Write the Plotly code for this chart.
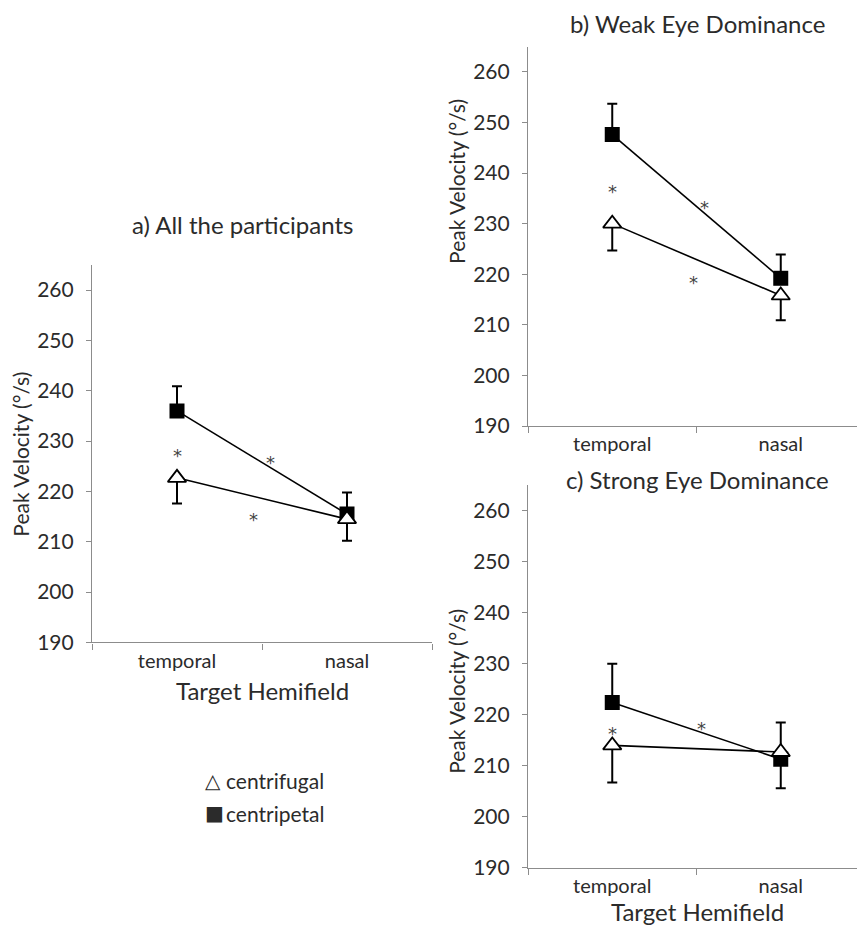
import plotly.graph_objects as go

# ── Data ─────────────────────────────────────────────────────────────────────
HEMIFIELDS = ["temporal", "nasal"]

# a) All the participants
A_CENTRIFUGAL     = [222.7, 214.5]
A_CENTRIFUGAL_ERR = [5.1, 4.3]
A_CENTRIPETAL     = [236.0, 215.5]
A_CENTRIPETAL_ERR = [4.9, 4.3]
A_STARS_X = ["temporal", 0.55, 0.45]
A_STARS_Y = [228.0, 226.5, 215.3]

# b) Weak Eye Dominance
B_CENTRIFUGAL     = [230.0, 215.8]
B_CENTRIFUGAL_ERR = [5.3, 4.9]
B_CENTRIPETAL     = [247.6, 219.2]
B_CENTRIPETAL_ERR = [6.1, 4.7]
B_STARS_X = ["temporal", 0.55, 0.48]
B_STARS_Y = [237.2, 233.9, 219.1]

# c) Strong Eye Dominance
C_CENTRIFUGAL     = [214.0, 212.7]
C_CENTRIFUGAL_ERR = [7.3, 7.1]
C_CENTRIPETAL     = [222.4, 211.3]
C_CENTRIPETAL_ERR = [7.6, 7.2]
C_STARS_X = ["temporal", 0.53]
C_STARS_Y = [217.2, 218.0]

Y_TICKS = [190, 200, 210, 220, 230, 240, 250, 260]

# ── Style ────────────────────────────────────────────────────────────────────
FONT = "Lato, 'Open Sans', sans-serif"
TEXT = "#2b2b2b"
AXIS = "#8c8c8c"
OFF_X = 8                    # page shows the figure shifted right by the body margin
W, H = 865 - OFF_X, 933


def px_x(p):
    return (p - OFF_X) / W


def px_y(p):
    return 1 - p / H


fig = go.Figure()


def add_panel(n, centrifugal, cf_err, centripetal, cp_err, stars_x, stars_y):
    xa = "x" if n == 1 else f"x{n}"
    ya = "y" if n == 1 else f"y{n}"
    fig.add_trace(go.Scatter(
        x=HEMIFIELDS, y=centripetal, xaxis=xa, yaxis=ya,
        mode="lines+markers", showlegend=False,
        line=dict(color="black", width=1.6),
        marker=dict(symbol="square", size=15, color="black"),
        error_y=dict(type="data", symmetric=False, array=cp_err,
                     arrayminus=[0] * len(cp_err),
                     color="black", thickness=2, width=5),
    ))
    fig.add_trace(go.Scatter(
        x=HEMIFIELDS, y=centrifugal, xaxis=xa, yaxis=ya,
        mode="lines+markers", showlegend=False,
        line=dict(color="black", width=1.6),
        marker=dict(symbol="triangle-up", size=16, color="white",
                    line=dict(color="black", width=1.8)),
        error_y=dict(type="data", symmetric=False, array=[0] * len(cf_err),
                     arrayminus=cf_err,
                     color="black", thickness=2, width=5),
    ))
    # significance stars: first sits on the category, others between categories
    for sx, sy in zip(stars_x, stars_y):
        fig.add_annotation(
            x=0 if sx == "temporal" else sx, y=sy, xref=xa, yref=ya,
            text="*", showarrow=False, yshift=-4,
            font=dict(family="DejaVu Sans", size=18, color="#444"),
        )


add_panel(1, A_CENTRIFUGAL, A_CENTRIFUGAL_ERR, A_CENTRIPETAL, A_CENTRIPETAL_ERR,
          A_STARS_X, A_STARS_Y)
add_panel(2, B_CENTRIFUGAL, B_CENTRIFUGAL_ERR, B_CENTRIPETAL, B_CENTRIPETAL_ERR,
          B_STARS_X, B_STARS_Y)
add_panel(3, C_CENTRIFUGAL, C_CENTRIFUGAL_ERR, C_CENTRIPETAL, C_CENTRIPETAL_ERR,
          C_STARS_X, C_STARS_Y)

xaxis_style = dict(
    type="category", range=[-0.5, 1.5], showline=True, linecolor=AXIS,
    linewidth=1.2, ticks="outside", tickson="boundaries", ticklen=6,
    tickcolor=AXIS, showgrid=False, zeroline=False,
    tickfont=dict(family=FONT, size=20, color=TEXT),
)
yaxis_style = dict(
    range=[190, 265], tickvals=Y_TICKS, showline=True, linecolor=AXIS,
    linewidth=1.2, ticks="outside", ticklen=5, tickcolor=AXIS,
    showgrid=False, zeroline=False, ticklabelstandoff=8,
    tickfont=dict(family=FONT, size=21, color=TEXT),
)

fig.update_layout(
    width=W, height=H,
    margin=dict(l=0, r=0, t=0, b=0),
    paper_bgcolor="white", plot_bgcolor="white",
    font=dict(family=FONT, color=TEXT),
    xaxis=dict(domain=[px_x(92), px_x(432)], anchor="y", **xaxis_style),
    yaxis=dict(domain=[px_y(642), px_y(260)], anchor="x", **yaxis_style),
    xaxis2=dict(domain=[px_x(528), 1.0], anchor="y2", **xaxis_style),
    yaxis2=dict(domain=[px_y(423), px_y(39)], anchor="x2", **yaxis_style),
    xaxis3=dict(domain=[px_x(528), 1.0], anchor="y3", **xaxis_style),
    yaxis3=dict(domain=[px_y(870), px_y(483)], anchor="x3", **yaxis_style),
)

# ── Titles, axis labels, legend ──────────────────────────────────────────────
def paper_text(text, x, y, size, angle=0, xanchor="center", family=FONT):
    fig.add_annotation(
        x=px_x(x), y=px_y(y), xref="paper", yref="paper", text=text,
        showarrow=False, textangle=angle, xanchor=xanchor, yanchor="middle",
        font=dict(family=family, size=size, color=TEXT),
    )


paper_text("a) All the participants", 242, 219, 24)
paper_text("b) Weak Eye Dominance", 697, 16, 24)
paper_text("c) Strong Eye Dominance", 697, 477, 24)

paper_text("Peak Velocity (°/s)", 21, 452, 21, angle=-90)
paper_text("Peak Velocity (°/s)", 457, 176, 21, angle=-90)
paper_text("Peak Velocity (°/s)", 457, 692, 21, angle=-90)

paper_text("Target Hemifield", 262, 691, 24)
paper_text("Target Hemifield", 697, 914, 24)

paper_text("△", 203, 782, 20, xanchor="left", family="DejaVu Sans")
paper_text("centrifugal", 224, 782, 21, xanchor="left")
paper_text("■", 203, 815, 20, xanchor="left", family="DejaVu Sans")
paper_text("centripetal", 224, 815, 21, xanchor="left")

fig.write_html("out.html")
